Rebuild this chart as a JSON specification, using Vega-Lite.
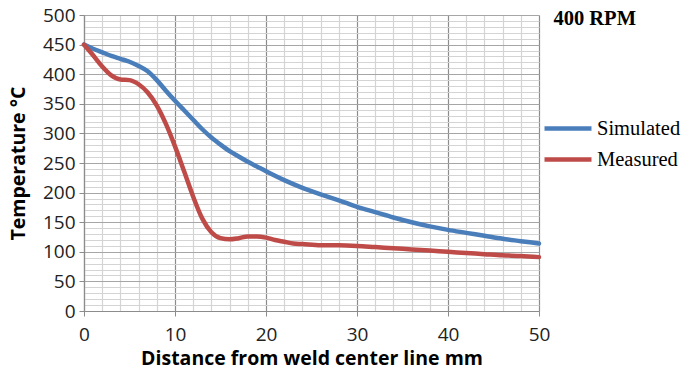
{
  "$schema": "https://vega.github.io/schema/vega-lite/v6.json",
  "autosize": {"type": "none"},
  "width": 455,
  "height": 296,
  "padding": {"left": 84, "top": 15, "right": 145, "bottom": 66},
  "background": "white",
  "config": {"view": {"stroke": null}},
  "title": {"text": "400 RPM", "anchor": "end", "frame": "group", "orient": "top", "font": "Liberation Serif", "fontSize": 20.5, "fontWeight": "bold", "color": "#000", "offset": 0, "dx": 97, "dy": 43, "baseline": "bottom"},
  "data": {"values": [
    {"x": 0, "T": 450, "s": "Simulated"}, {"x": 1, "T": 443, "s": "Simulated"}, {"x": 2, "T": 437, "s": "Simulated"}, {"x": 3, "T": 431, "s": "Simulated"}, {"x": 4, "T": 426, "s": "Simulated"}, {"x": 5, "T": 421, "s": "Simulated"}, {"x": 6, "T": 414, "s": "Simulated"}, {"x": 7, "T": 405, "s": "Simulated"}, {"x": 8, "T": 390, "s": "Simulated"}, {"x": 9, "T": 372, "s": "Simulated"}, {"x": 10, "T": 355, "s": "Simulated"}, {"x": 11, "T": 339, "s": "Simulated"}, {"x": 12, "T": 323, "s": "Simulated"}, {"x": 13, "T": 307, "s": "Simulated"}, {"x": 14, "T": 293, "s": "Simulated"}, {"x": 15, "T": 281, "s": "Simulated"}, {"x": 16, "T": 270, "s": "Simulated"}, {"x": 17, "T": 261, "s": "Simulated"}, {"x": 18, "T": 252, "s": "Simulated"}, {"x": 19, "T": 244, "s": "Simulated"}, {"x": 20, "T": 236, "s": "Simulated"}, {"x": 22, "T": 221, "s": "Simulated"}, {"x": 24, "T": 208, "s": "Simulated"}, {"x": 26, "T": 197, "s": "Simulated"}, {"x": 28, "T": 187, "s": "Simulated"}, {"x": 30, "T": 176, "s": "Simulated"}, {"x": 32, "T": 167, "s": "Simulated"}, {"x": 34, "T": 158, "s": "Simulated"}, {"x": 36, "T": 150, "s": "Simulated"}, {"x": 38, "T": 143, "s": "Simulated"}, {"x": 40, "T": 137, "s": "Simulated"}, {"x": 42, "T": 132, "s": "Simulated"}, {"x": 44, "T": 127, "s": "Simulated"}, {"x": 46, "T": 122, "s": "Simulated"}, {"x": 48, "T": 118, "s": "Simulated"}, {"x": 50, "T": 114, "s": "Simulated"},
    {"x": 0, "T": 450, "s": "Measured"}, {"x": 1, "T": 432, "s": "Measured"}, {"x": 2, "T": 413, "s": "Measured"}, {"x": 3, "T": 398, "s": "Measured"}, {"x": 4, "T": 391, "s": "Measured"}, {"x": 5, "T": 390, "s": "Measured"}, {"x": 6, "T": 383, "s": "Measured"}, {"x": 7, "T": 369, "s": "Measured"}, {"x": 8, "T": 347, "s": "Measured"}, {"x": 9, "T": 316, "s": "Measured"}, {"x": 10, "T": 278, "s": "Measured"}, {"x": 11, "T": 236, "s": "Measured"}, {"x": 12, "T": 193, "s": "Measured"}, {"x": 13, "T": 156, "s": "Measured"}, {"x": 14, "T": 133, "s": "Measured"}, {"x": 15, "T": 123, "s": "Measured"}, {"x": 16, "T": 121, "s": "Measured"}, {"x": 17, "T": 123, "s": "Measured"}, {"x": 18, "T": 126, "s": "Measured"}, {"x": 19, "T": 126, "s": "Measured"}, {"x": 20, "T": 124, "s": "Measured"}, {"x": 21, "T": 120, "s": "Measured"}, {"x": 22, "T": 117, "s": "Measured"}, {"x": 23, "T": 114, "s": "Measured"}, {"x": 24, "T": 113, "s": "Measured"}, {"x": 26, "T": 111, "s": "Measured"}, {"x": 28, "T": 111, "s": "Measured"}, {"x": 30, "T": 110, "s": "Measured"}, {"x": 32, "T": 108, "s": "Measured"}, {"x": 34, "T": 106, "s": "Measured"}, {"x": 36, "T": 104, "s": "Measured"}, {"x": 38, "T": 102, "s": "Measured"}, {"x": 40, "T": 100, "s": "Measured"}, {"x": 42, "T": 98, "s": "Measured"}, {"x": 44, "T": 96, "s": "Measured"}, {"x": 46, "T": 94, "s": "Measured"}, {"x": 48, "T": 93, "s": "Measured"}, {"x": 50, "T": 91, "s": "Measured"}
  ]},
  "mark": {"type": "line", "interpolate": "monotone", "strokeWidth": 4.5, "strokeCap": "round"},
  "encoding": {
    "x": {
      "field": "x", "type": "quantitative",
      "scale": {"domain": [0, 50], "nice": false, "zero": false},
      "axis": {
        "values": [0,2,4,6,8,10,12,14,16,18,20,22,24,26,28,30,32,34,36,38,40,42,44,46,48,50],
        "labelExpr": "datum.value % 10 === 0 ? datum.label : ''",
        "title": "Distance from weld center line mm",
        "titleFont": "Open Sans", "titleFontSize": 19.5, "titleFontWeight": "bold", "titleColor": "#000", "titlePadding": 5,
        "labelFont": "Open Sans", "labelFontSize": 19, "labelColor": "#222", "labelPadding": 9, "labelFlush": false,
        "grid": true,
        "gridColor": {"condition": {"test": "datum.value % 10 === 0", "value": "#8c8c8c"}, "value": "#d4d4d4"},
        "gridWidth": 1.2, "gridOpacity": 1,
        "domainColor": "#8c8c8c", "domainWidth": 1.2,
        "tickColor": "#8c8c8c", "tickSize": 5,
        "tickOpacity": {"condition": {"test": "datum.value % 10 === 0", "value": 1}, "value": 0}
      }
    },
    "y": {
      "field": "T", "type": "quantitative",
      "scale": {"domain": [0, 500], "nice": false},
      "axis": {
        "values": [0,10,20,30,40,50,60,70,80,90,100,110,120,130,140,150,160,170,180,190,200,210,220,230,240,250,260,270,280,290,300,310,320,330,340,350,360,370,380,390,400,410,420,430,440,450,460,470,480,490,500],
        "labelExpr": "datum.value % 50 === 0 ? datum.label : ''",
        "title": "Temperature °C",
        "titleFont": "Open Sans", "titleFontSize": 19.5, "titleFontWeight": "bold", "titleColor": "#000", "titlePadding": 14,
        "labelFont": "Open Sans", "labelFontSize": 19, "labelColor": "#222", "labelPadding": 4, "labelFlush": false,
        "grid": true,
        "gridColor": {"condition": {"test": "datum.value % 50 === 0", "value": "#a6a6a6"}, "value": "#d4d4d4"},
        "gridWidth": 1.2, "gridOpacity": 1,
        "domainColor": "#8c8c8c", "domainWidth": 1.2,
        "tickColor": "#8c8c8c", "tickSize": 5,
        "tickOpacity": {"condition": {"test": "datum.value % 50 === 0", "value": 1}, "value": 0}
      }
    },
    "color": {
      "field": "s", "type": "nominal",
      "scale": {"domain": ["Simulated", "Measured"], "range": ["#4a7ebb", "#be4b48"]},
      "legend": {
        "title": null, "orient": "none", "legendX": 458, "legendY": 98,
        "symbolType": "stroke", "symbolSize": 2209, "symbolStrokeWidth": 4.5,
        "labelFont": "Liberation Serif", "labelFontSize": 20.5, "labelColor": "#000", "labelOffset": 3,
        "clipHeight": 31, "rowPadding": 0
      }
    }
  }
}
